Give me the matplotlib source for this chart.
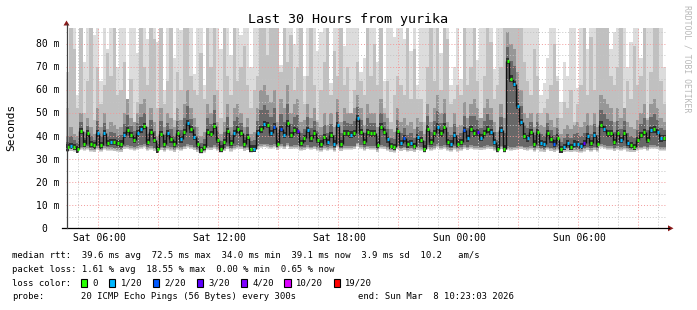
import numpy as np
import matplotlib
matplotlib.use("Agg")
import matplotlib.pyplot as plt
from matplotlib.lines import Line2D
from matplotlib.patches import Polygon, Rectangle

# ---------------- data ----------------
title = "Last 30 Hours from yurika"
start_hour = 4 + 23 / 60 + 3 / 3600      # Sat 04:23:03
span_hours = 30
step_minutes = 10

tick_hours = [6, 12, 18, 24, 30]
tick_labels = ["Sat 06:00", "Sat 12:00", "Sat 18:00", "Sun 00:00", "Sun 06:00"]
y_ticks = [0, 10, 20, 30, 40, 50, 60, 70, 80]
y_tick_labels = ["0", "10 m", "20 m", "30 m", "40 m", "50 m", "60 m", "70 m", "80 m"]

# median rtt (ms) per 10-minute step
median = [
    35.1, 35.8, 35.4, 34.2, 42.3, 36.8, 41.2, 36.5, 36.0, 41.2,
    36.0, 41.4, 37.1, 37.5, 37.5, 37.1, 36.8, 40.4, 42.6, 40.4,
    38.3, 41.2, 42.9, 44.3, 37.5, 41.9, 38.3, 34.2, 40.9, 36.8,
    41.2, 38.6, 36.5, 41.2, 38.6, 41.9, 45.8, 42.9, 39.7, 36.5,
    34.0, 35.4, 41.9, 40.9, 44.3, 38.3, 34.6, 37.5, 42.3, 37.1,
    41.2, 42.9, 41.2, 36.8, 39.7, 34.6, 34.6, 41.2, 42.9, 45.2,
    44.8, 41.4, 44.1, 36.8, 43.2, 40.4, 45.5, 40.4, 42.6, 42.3,
    37.1, 39.0, 42.6, 39.0, 41.4, 38.3, 36.8, 39.7, 37.5, 40.4,
    36.8, 44.8, 36.8, 41.4, 41.2, 40.7, 41.2, 47.7, 41.9, 37.5,
    41.9, 41.2, 41.2, 36.1, 44.1, 41.9, 38.6, 35.7, 35.4, 42.3,
    37.1, 39.0, 36.4, 37.1, 35.7, 39.7, 38.3, 34.6, 43.3, 37.5,
    41.2, 44.1, 41.2, 44.1, 37.5, 36.8, 40.4, 36.8, 37.5, 42.6,
    39.0, 43.2, 41.2, 41.6, 39.4, 41.4, 42.9, 41.9, 37.5, 34.6,
    42.6, 34.6, 72.5, 65.0, 62.6, 53.0, 46.0, 40.0, 39.0, 41.9,
    36.8, 41.9, 37.1, 36.5, 41.2, 38.6, 36.8, 39.4, 34.2, 35.4,
    37.1, 35.4, 36.8, 36.5, 35.7, 37.1, 40.0, 37.1, 40.4, 36.8,
    45.0, 43.2, 41.2, 41.2, 37.5, 41.2, 38.3, 41.4, 37.1, 36.1,
    35.4, 38.3, 40.4, 41.9, 38.3, 42.6, 42.9, 41.9, 39.0, 39.1,
]

# lost pings (of 20) per step
loss = [
    0, 1, 0, 0, 0, 0, 0, 0, 0, 1,
    0, 1, 0, 1, 0, 0, 0, 1, 0, 0,
    0, 1, 1, 0, 0, 0, 0, 0, 0, 0,
    1, 0, 0, 0, 1, 0, 1, 0, 1, 0,
    0, 0, 0, 0, 0, 0, 0, 0, 0, 0,
    1, 0, 0, 0, 0, 0, 1, 1, 0, 1,
    0, 1, 2, 0, 2, 1, 0, 0, 0, 3,
    0, 0, 1, 0, 0, 0, 0, 0, 1, 0,
    1, 1, 0, 0, 0, 1, 0, 1, 0, 0,
    0, 0, 0, 0, 0, 0, 1, 0, 0, 0,
    1, 2, 0, 1, 0, 1, 0, 0, 0, 0,
    0, 1, 0, 0, 0, 1, 1, 0, 0, 2,
    1, 0, 0, 3, 1, 0, 0, 1, 1, 0,
    1, 0, 0, 0, 1, 1, 1, 0, 1, 0,
    0, 0, 1, 1, 0, 0, 2, 0, 0, 1,
    1, 0, 1, 1, 1, 3, 1, 0, 1, 0,
    0, 1, 0, 0, 0, 0, 1, 0, 1, 0,
    0, 0, 0, 0, 0, 1, 0, 1, 1, 0,
]

# smoke: lowest ping, upper quartile, 90th percentile, highest ping (ms)
smoke_lo = [
    33.0, 33.4, 33.1, 32.8, 33.9, 33.5, 34.0, 33.2, 33.0, 34.1,
    33.2, 34.0, 33.5, 33.7, 33.4, 33.2, 33.0, 34.2, 34.6, 34.0,
    33.6, 34.1, 34.4, 34.8, 33.5, 34.0, 33.4, 32.6, 33.8, 33.2,
    34.0, 33.6, 33.0, 33.9, 33.5, 34.2, 35.0, 34.4, 33.8, 33.0,
    32.4, 32.8, 34.0, 33.8, 34.6, 33.5, 32.8, 33.4, 34.2, 33.3,
    34.0, 34.5, 34.2, 33.4, 33.8, 32.8, 33.0, 34.2, 34.8, 35.2,
    35.0, 34.4, 35.0, 33.8, 34.8, 34.2, 35.4, 34.2, 34.6, 34.5,
    33.6, 33.8, 34.6, 33.9, 34.2, 33.5, 33.2, 34.0, 33.6, 34.0,
    33.2, 34.8, 33.4, 34.1, 34.0, 34.0, 34.2, 35.5, 34.4, 33.6,
    34.2, 34.0, 34.0, 33.0, 34.6, 34.2, 33.6, 33.0, 32.8, 34.3,
    33.4, 33.8, 33.2, 33.4, 33.0, 33.8, 33.5, 32.7, 34.4, 33.6,
    34.0, 34.8, 34.0, 34.6, 33.6, 33.2, 34.0, 33.3, 33.6, 34.4,
    33.8, 34.6, 34.0, 34.1, 33.8, 34.1, 34.5, 34.2, 33.5, 32.8,
    34.3, 32.8, 34.0, 33.6, 33.8, 34.0, 34.2, 33.8, 33.6, 34.0,
    33.2, 34.0, 33.3, 33.0, 33.9, 33.4, 33.0, 33.6, 32.6, 32.9,
    33.3, 32.9, 33.2, 33.0, 32.8, 33.3, 33.8, 33.2, 33.8, 33.2,
    34.8, 34.6, 34.0, 34.0, 33.4, 34.0, 33.5, 34.1, 33.3, 33.0,
    32.9, 33.5, 33.9, 34.2, 33.5, 34.4, 34.6, 34.2, 33.7, 33.6,
]
smoke_p75 = [
    40, 44, 41, 40, 50, 42, 48, 44, 41, 52,
    44, 50, 43, 46, 45, 43, 44, 50, 56, 48,
    46, 50, 54, 56, 44, 52, 46, 40, 52, 44,
    50, 48, 44, 52, 47, 54, 60, 52, 48, 44,
    40, 42, 54, 50, 58, 46, 41, 46, 54, 44,
    52, 54, 50, 44, 48, 41, 42, 52, 60, 62,
    58, 55, 60, 46, 56, 52, 62, 50, 54, 56,
    46, 47, 54, 48, 52, 46, 44, 50, 45, 50,
    44, 56, 46, 52, 50, 50, 52, 58, 52, 45,
    54, 50, 50, 44, 56, 50, 48, 43, 42, 52,
    46, 48, 45, 46, 43, 48, 46, 41, 54, 46,
    52, 58, 50, 56, 46, 44, 50, 44, 45, 55,
    48, 54, 56, 52, 48, 52, 56, 52, 46, 42,
    54, 48, 85, 80, 78, 68, 60, 50, 48, 50,
    44, 50, 45, 44, 50, 47, 44, 48, 41, 43,
    45, 43, 45, 46, 44, 46, 50, 45, 50, 44,
    58, 56, 54, 52, 46, 52, 48, 52, 46, 44,
    43, 47, 50, 54, 47, 54, 56, 52, 48, 46,
]
smoke_p90 = [
    52, 120, 78, 52, 120, 50, 64, 120, 47, 70,
    54, 62, 76, 66, 120, 58, 60, 72, 52, 65,
    46, 55, 120, 70, 62, 120, 82, 52, 120, 54,
    64, 120, 47, 68, 60, 120, 120, 66, 60, 58,
    76, 56, 120, 70, 120, 60, 48, 120, 66, 58,
    120, 64, 70, 79, 62, 52, 60, 66, 120, 120,
    75, 120, 120, 120, 68, 120, 72, 84, 60, 70,
    120, 54, 66, 120, 62, 47, 60, 72, 120, 58,
    77, 66, 120, 62, 70, 48, 60, 72, 64, 58,
    120, 66, 80, 62, 120, 52, 64, 46, 58, 66,
    62, 58, 120, 56, 78, 56, 56, 46, 70, 120,
    64, 120, 60, 120, 82, 54, 56, 62, 58, 120,
    62, 70, 120, 64, 47, 66, 120, 81, 56, 62,
    70, 120, 150, 150, 150, 120, 120, 72, 64, 58,
    78, 66, 50, 52, 56, 62, 80, 64, 48, 55,
    52, 60, 46, 54, 62, 120, 58, 83, 60, 120,
    120, 120, 120, 66, 62, 70, 120, 47, 64, 56,
    79, 62, 66, 120, 48, 68, 120, 120, 64, 54,
]
smoke_hi = [
    68, 120, 95, 58, 120, 72, 120, 120, 84, 120,
    64, 120, 78, 120, 120, 70, 90, 120, 56, 120,
    120, 76, 120, 120, 82, 120, 120, 81, 120, 60,
    120, 120, 74, 120, 86, 120, 120, 120, 67, 120,
    120, 62, 120, 120, 120, 93, 78, 120, 120, 75,
    120, 120, 84, 120, 120, 70, 88, 120, 120, 120,
    120, 120, 120, 120, 71, 120, 120, 120, 80, 120,
    120, 66, 120, 120, 120, 77, 85, 120, 120, 63,
    120, 120, 120, 79, 120, 120, 120, 120, 68, 74,
    120, 120, 120, 72, 120, 64, 120, 120, 83, 120,
    120, 82, 120, 77, 120, 62, 120, 120, 120, 120,
    120, 120, 76, 120, 120, 62, 70, 120, 65, 120,
    120, 120, 120, 73, 120, 120, 120, 120, 69, 120,
    120, 120, 150, 150, 150, 150, 120, 120, 120, 120,
    120, 120, 58, 63, 74, 120, 120, 66, 55, 72,
    66, 120, 120, 61, 120, 120, 78, 120, 120, 120,
    120, 120, 120, 78, 85, 120, 120, 120, 70, 81,
    120, 120, 74, 120, 120, 120, 120, 120, 120, 70,
]

loss_levels = [0, 1, 2, 3, 4, 10, 19]
loss_names = ["0", "1/20", "2/20", "3/20", "4/20", "10/20", "19/20"]
loss_colors = ["#26ff00", "#00b8ff", "#0059ff", "#5e00ff", "#7e00ff", "#dd00ff", "#ff0000"]

legend_rows = [
    "median rtt:  39.6 ms avg  72.5 ms max  34.0 ms min  39.1 ms now  3.9 ms sd  10.2   am/s",
    "packet loss: 1.61 % avg  18.55 % max  0.00 % min  0.65 % now",
]
probe_text = "20 ICMP Echo Pings (56 Bytes) every 300s"
end_text = "end: Sun Mar  8 10:23:03 2026"

# ---------------- figure ----------------
W, H = 697, 310
MONO = "DejaVu Sans Mono"
fig = plt.figure(figsize=(W / 100, H / 100), dpi=100)
fig.patch.set_facecolor("white")


def fx(x):
    return x / W


def fy(y):
    return 1 - y / H


X0, X1 = 66.0, 666.0
Y0, YT = 228.3, 28.3
YMAX = 86.8
ax = fig.add_axes([fx(X0), fy(Y0), (X1 - X0) / W, (Y0 - YT) / H])
ax.set_xlim(start_hour, start_hour + span_hours)
ax.set_ylim(0, YMAX)
ax.axis("off")

n = len(median)
step = step_minutes / 60.0
edges = start_hour + np.arange(n + 1) * step
centers = edges[:-1] + step / 2

med = np.array(median, float)
lo = np.array(smoke_lo, float)
p75 = np.maximum(np.array(smoke_p75, float), med)
p90 = np.maximum(np.array(smoke_p90, float), p75)
hi = np.maximum(np.array(smoke_hi, float), p90)


def ext(a):
    return np.append(a, a[-1])


layers = [
    (lo, hi, "#dcdcdc"),
    (lo + 0.3, p90, "#c0c0c0"),
    (lo + 0.9, p75, "#979797"),
    (lo + 1.6, med + (p75 - med) * 0.5, "#686868"),
    (med - 1.4, med + 1.4, "#303030"),
]
for bot, top, col in layers:
    ax.fill_between(edges, ext(bot), ext(top), step="post", color=col,
                    lw=0, zorder=1, antialiased=False)

# grid
dots = (0, (1, 2))
for v in range(5, 90, 5):
    if v > YMAX:
        break
    major = v % 10 == 0
    ax.axhline(v, color="#f29a9a" if major else "#c4c4c4", lw=0.7,
               ls=dots, zorder=2)
h = int(np.ceil(start_hour))
while h < start_hour + span_hours:
    ax.axvline(h, color="#f29a9a" if h % 3 == 0 else "#c4c4c4", lw=0.7,
               ls=dots, zorder=2)
    h += 1

# median: vertical joins in black, short loss-coloured dashes on each value
ax.vlines(edges[1:-1], med[:-1], med[1:], color="#101010", lw=1.0, zorder=3)


def loss_color(v):
    c = loss_colors[0]
    for lvl, col in zip(loss_levels, loss_colors):
        if v >= lvl:
            c = col
    return c


ax.hlines(med, centers - step * 0.32, centers + step * 0.32,
          colors=[loss_color(v) for v in loss], lw=2.3, zorder=4,
          capstyle="butt")

# axes lines and arrows
fig.add_artist(Line2D([fx(61.5), fx(669)], [fy(Y0), fy(Y0)], color="black",
                      lw=0.9))
fig.add_artist(Line2D([fx(X0 + 0.5), fx(X0 + 0.5)], [fy(Y0), fy(24)],
                      color="#404040", lw=0.9))
fig.add_artist(Polygon([[fx(63.5), fy(25.5)], [fx(69.5), fy(25.5)],
                        [fx(66.5), fy(20.5)]], closed=True, color="#8b1a1a",
                       lw=0))
fig.add_artist(Polygon([[fx(668), fy(225.3)], [fx(668), fy(231.3)],
                        [fx(673.5), fy(228.3)]], closed=True, color="#8b1a1a",
                       lw=0))

# texts
fig.text(fx(347.5), fy(23.5), title, ha="center", va="baseline",
         fontsize=9.6, family=MONO)
fig.text(fx(11), fy(127), "Seconds", ha="center", va="center", rotation=90,
         fontsize=8.0, family=MONO)
fig.text(fx(687.5), fy(59), "RRDTOOL / TOBI OETIKER", ha="center",
         va="center", rotation=270, fontsize=5.9, family=MONO, color="#b8b8b8")

px_per_ms = (Y0 - YT) / YMAX
for v, lab in zip(y_ticks, y_tick_labels):
    ypx = Y0 - v * px_per_ms
    num = lab.split()[0]
    xl = 35.5 + (2 - len(num)) * 5.9
    fig.text(fx(xl), fy(ypx + 3.4), lab, ha="left", va="baseline",
             fontsize=7.05, family=MONO)

for hr, lab in zip(tick_hours, tick_labels):
    xpx = X0 + (hr - start_hour) / span_hours * (X1 - X0)
    fig.text(fx(xpx + 0.8), fy(240.7), lab, ha="center", va="baseline",
             fontsize=7.05, family=MONO)

LFS = 6.36
fig.text(fx(12.3), fy(258.3), legend_rows[0], ha="left", va="baseline",
         fontsize=LFS, family=MONO)
fig.text(fx(12.3), fy(271.6), legend_rows[1], ha="left", va="baseline",
         fontsize=LFS, family=MONO)
fig.text(fx(12.3), fy(286.0), "loss color:", ha="left", va="baseline",
         fontsize=LFS, family=MONO)
bx = 81.0
for name, col in zip(loss_names, loss_colors):
    fig.add_artist(Rectangle((fx(bx), fy(286.5)), 6.3 / W, 7.5 / H,
                             facecolor=col, edgecolor="black", lw=0.8))
    fig.text(fx(bx + 11.6), fy(286.0), name, ha="left", va="baseline",
             fontsize=LFS, family=MONO)
    bx += 11.6 + len(name) * 5.32 + 11.0
fig.text(fx(12.3), fy(299.3), "probe:", ha="left", va="baseline",
         fontsize=LFS, family=MONO)
fig.text(fx(80.7), fy(299.3), probe_text, ha="left", va="baseline",
         fontsize=LFS, family=MONO)
fig.text(fx(358.3), fy(299.3), end_text, ha="left", va="baseline",
         fontsize=LFS, family=MONO)

fig.savefig("out.png", dpi=100, facecolor="white")
